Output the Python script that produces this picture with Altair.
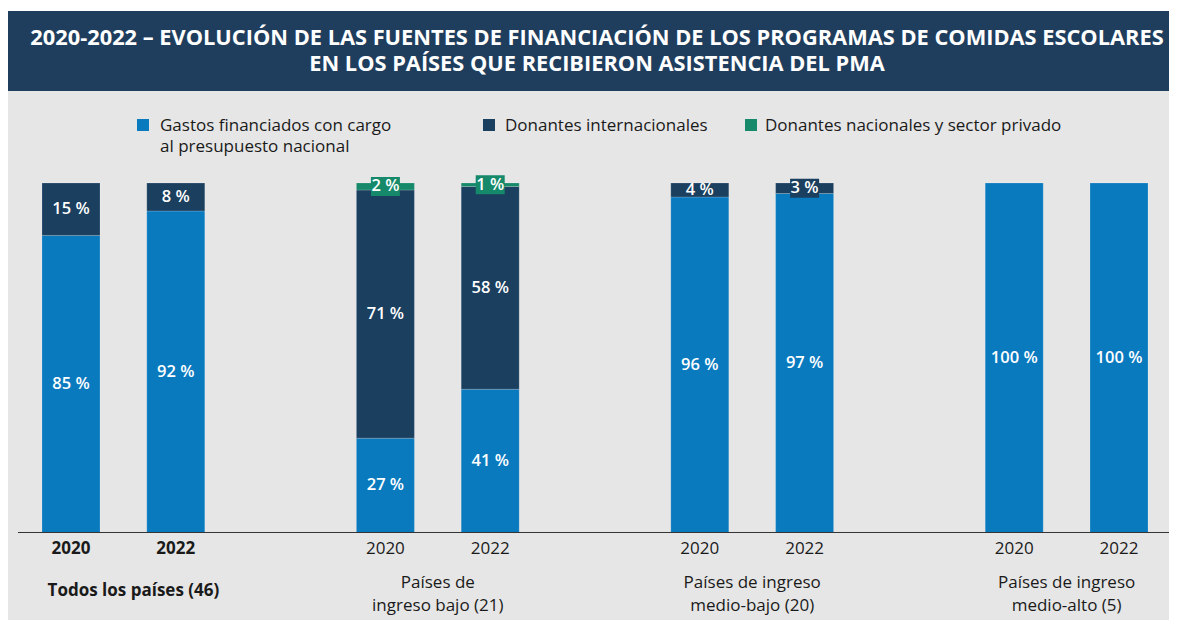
import altair as alt
import pandas as pd

# ---------------- data ----------------
groups = ["Todos los países (46)", "Países de\ningreso bajo (21)",
          "Países de ingreso\nmedio-bajo (20)", "Países de ingreso\nmedio-alto (5)"]
years = ["2020", "2022"]
series = ["Gastos financiados con cargo al presupuesto nacional",
          "Donantes internacionales",
          "Donantes nacionales y sector privado"]
legend_line1 = ["Gastos financiados con cargo", "Donantes internacionales",
                "Donantes nacionales y sector privado"]
legend_line2 = ["al presupuesto nacional", "", ""]
# one value per bar: (group, year) in order
nacional = [85, 92, 27, 41, 96, 97, 100, 100]
internacional = [15, 8, 71, 58, 4, 3, 0, 0]
privado = [0, 0, 2, 1, 0, 0, 0, 0]
title_lines = ["2020-2022 – EVOLUCIÓN DE LAS FUENTES DE FINANCIACIÓN DE LOS PROGRAMAS DE COMIDAS ESCOLARES",
               "EN LOS PAÍSES QUE RECIBIERON ASISTENCIA DEL PMA"]

colors = ["#0a7abf", "#1b3f5f", "#15896a"]
BAND = "#1f3e5e"
BG = "#e6e6e6"
TXT = "#1a1a1a"
FONT = "Open Sans"

W, H = 1161, 612

# ---------------- tables built from arrays ----------------
rows = []
bars = []
for i in range(len(nacional)):
    g, yi = i // 2, i % 2
    slot = 3 * g + yi
    bars.append({"slot": slot, "year": years[yi], "group": g})
    base = 0
    for s, vals in enumerate([nacional, internacional, privado]):
        v = vals[i]
        if v > 0:
            rows.append({"slot": slot, "serie": series[s], "v": v,
                         "y0": base, "y1": base + v, "mid": base + v / 2,
                         "label": f"{v} %"})
        base += v
seg = pd.DataFrame(rows)
bar_df = pd.DataFrame(bars)
grp_df = pd.DataFrame({"g": list(range(len(groups))),
                       "slot": [3 * g + 0.5 for g in range(len(groups))],
                       "name": groups})

xscale = alt.Scale(domain=[-0.6011, 10.477], nice=False, zero=False, padding=0)
yscale = alt.Scale(domain=[-25.036, 150.07], nice=False, zero=False, padding=0)
cscale = alt.Scale(domain=series, range=colors)

one = pd.DataFrame({"a": [0]})

band = alt.Chart(one).mark_rect(color=BAND).encode(
    x=alt.value(0), x2=alt.value(W), y=alt.value(3), y2=alt.value(83))
gray = alt.Chart(one).mark_rect(color=BG).encode(
    x=alt.value(0), x2=alt.value(W), y=alt.value(83), y2=alt.value(H))

title1 = alt.Chart(one).mark_text(
    font=FONT, fontSize=21.8, fontWeight="bold", color="white",
    align="center", baseline="alphabetic"
).encode(x=alt.value(589), y=alt.value(37), text=alt.value(title_lines[0]))
title2 = alt.Chart(one).mark_text(
    font=FONT, fontSize=21.8, fontWeight="bold", color="white",
    align="center", baseline="alphabetic"
).encode(x=alt.value(589), y=alt.value(62.5), text=alt.value(title_lines[1]))

X = alt.X("slot:Q", scale=xscale, axis=None)

bar_layer = alt.Chart(seg).mark_bar(size=58, stroke="white", strokeOpacity=0.25, strokeWidth=0.7).encode(
    x=X,
    y=alt.Y("y0:Q", scale=yscale, axis=None), y2="y1:Q",
    color=alt.Color("serie:N", scale=cscale, legend=None))

axis_rule = alt.Chart(pd.DataFrame({"zero": [0]})).mark_rule(color="#333333", strokeWidth=1).encode(
    y=alt.Y("zero:Q", scale=yscale, axis=None), x=alt.value(10), x2=alt.value(W))

boxes = alt.Chart(seg).transform_filter("datum.v <= 3").mark_point(
    shape="M-1,-0.655L1,-0.655L1,0.655L-1,0.655Z", size=841, filled=True, opacity=1, strokeWidth=0
).encode(x=X, y=alt.Y("mid:Q", scale=yscale, axis=None),
         color=alt.Color("serie:N", scale=cscale, legend=None))

vlabels = alt.Chart(seg).mark_text(
    font=FONT, fontSize=16.5, fontWeight=600, color="white", baseline="middle", align="center"
).encode(x=X, y=alt.Y("mid:Q", scale=yscale, axis=None), text="label:N")

year_bold = alt.Chart(bar_df).transform_filter("datum.group == 0").mark_text(
    font=FONT, fontSize=17, fontWeight="bold", color=TXT, baseline="alphabetic"
).encode(x=X, y=alt.value(546), text="year:N")
year_reg = alt.Chart(bar_df).transform_filter("datum.group > 0").mark_text(
    font=FONT, fontSize=17, color=TXT, baseline="alphabetic"
).encode(x=X, y=alt.value(546), text="year:N")

grp_bold = alt.Chart(grp_df).transform_filter("datum.g == 0").mark_text(
    font=FONT, fontSize=17, fontWeight="bold", color=TXT, baseline="alphabetic", align="center", dx=10
).encode(x=X, y=alt.value(588), text="name:N")
grp_reg = alt.Chart(grp_df).transform_filter("datum.g > 0").mark_text(
    font=FONT, fontSize=17, color=TXT, baseline="alphabetic", align="center",
    lineBreak="\n", lineHeight=23
).encode(x=X, y=alt.value(580), text="name:N")

# legend (manual)
leg_sq_x = [129, 475, 737]
leg_tx_x = [152, 497, 757]
legend_layers = []
for i, s in enumerate(series):
    d = pd.DataFrame({"serie": [s], "l1": [legend_line1[i]], "l2": [legend_line2[i]]})
    legend_layers.append(alt.Chart(d).mark_rect().encode(
        x=alt.value(leg_sq_x[i]), x2=alt.value(leg_sq_x[i] + 12),
        y=alt.value(111), y2=alt.value(123),
        color=alt.Color("serie:N", scale=cscale, legend=None)))
    legend_layers.append(alt.Chart(d).mark_text(
        font=FONT, fontSize=17, color=TXT, align="left", baseline="alphabetic"
    ).encode(x=alt.value(leg_tx_x[i]), y=alt.value(123), text="l1:N"))
    if legend_line2[i]:
        legend_layers.append(alt.Chart(d).mark_text(
            font=FONT, fontSize=17, color=TXT, align="left", baseline="alphabetic"
        ).encode(x=alt.value(leg_tx_x[i]), y=alt.value(143.5), text="l2:N"))

chart = alt.layer(
    band, gray, title1, title2, bar_layer, axis_rule, boxes, vlabels,
    year_bold, year_reg, grp_bold, grp_reg, *legend_layers
).properties(
    width=W, height=H, padding=0, background="white",
    autosize=alt.AutoSizeParams(type="none")
).configure_view(stroke=None)

chart.save("out.html", embed_options={"renderer": "svg", "actions": False})
